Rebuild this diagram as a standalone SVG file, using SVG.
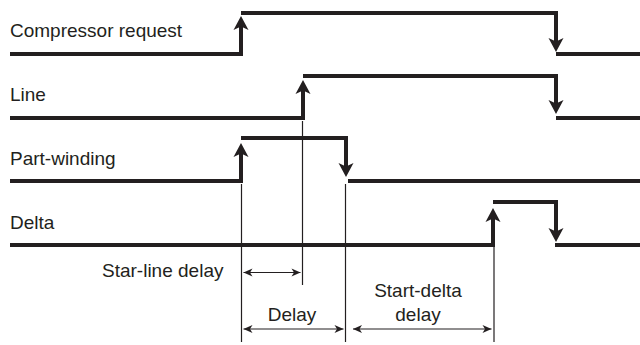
<svg xmlns="http://www.w3.org/2000/svg" width="640" height="345" viewBox="0 0 640 345">
<style>
text{font-family:"Liberation Sans",Arial,sans-serif;font-size:19px;fill:#231f20}
.sig{fill:none;stroke:#231f20;stroke-width:4;stroke-linejoin:miter;stroke-linecap:butt}
.thin{fill:none;stroke:#231f20;stroke-width:1.2}
</style>
<defs>
<marker id="big" markerUnits="userSpaceOnUse" viewBox="-12 -8 17 16" refX="0" refY="0" markerWidth="17" markerHeight="16" orient="auto">
<path d="M4,0 L-10,-7.5 L-6.5,0 L-10,7.5 Z" fill="#231f20"/>
</marker>
<marker id="sm" markerUnits="userSpaceOnUse" viewBox="-10 -5 12 10" refX="0" refY="0" markerWidth="12" markerHeight="10" orient="auto-start-reverse">
<path d="M0,0 L-9,-4 L-6.5,0 L-9,4 Z" fill="#231f20"/>
</marker>
</defs>
<g id="labels">
<text x="10" y="36.5">Compressor request</text>
<text x="10" y="100.5">Line</text>
<text x="10" y="164.5">Part-winding</text>
<text x="10" y="228.5">Delta</text>
</g>
<g id="compressor">
<path class="sig" d="M10,54 H241 V20" marker-end="url(#big)"/>
<path class="sig" d="M241,13 H556 V48" marker-end="url(#big)"/>
<path class="sig" d="M556,54 H640"/>
</g>
<g id="line">
<path class="sig" d="M10,118 H303 V84" marker-end="url(#big)"/>
<path class="sig" d="M303,76 H556 V110" marker-end="url(#big)"/>
<path class="sig" d="M556,118 H640"/>
</g>
<g id="part-winding">
<path class="sig" d="M10,181 H241 V147" marker-end="url(#big)"/>
<path class="sig" d="M241,138 H346 V173" marker-end="url(#big)"/>
<path class="sig" d="M348,181 H640"/>
</g>
<g id="delta">
<path class="sig" d="M10,245 H493 V212" marker-end="url(#big)"/>
<path class="sig" d="M493,202 H556 V238" marker-end="url(#big)"/>
<path class="sig" d="M555,245 H640"/>
</g>
<g id="connectors">
<path class="thin" d="M302.5,121 V285"/>
<path class="thin" d="M241.5,184 V342"/>
<path class="thin" d="M345.5,184 V342"/>
<path class="thin" d="M494,247 V342"/>
<path class="thin" d="M243.5,272.5 H300.5" marker-start="url(#sm)" marker-end="url(#sm)"/>
<path class="thin" d="M243.5,329 H343.5" marker-start="url(#sm)" marker-end="url(#sm)"/>
<path class="thin" d="M353,329 H491.5" marker-start="url(#sm)" marker-end="url(#sm)"/>
</g>
<g id="delay-labels">
<text x="102" y="277">Star-line delay</text>
<text x="292" y="321" text-anchor="middle">Delay</text>
<text x="418" y="296.5" text-anchor="middle">Start-delta</text>
<text x="418" y="321" text-anchor="middle">delay</text>
</g>
</svg>
